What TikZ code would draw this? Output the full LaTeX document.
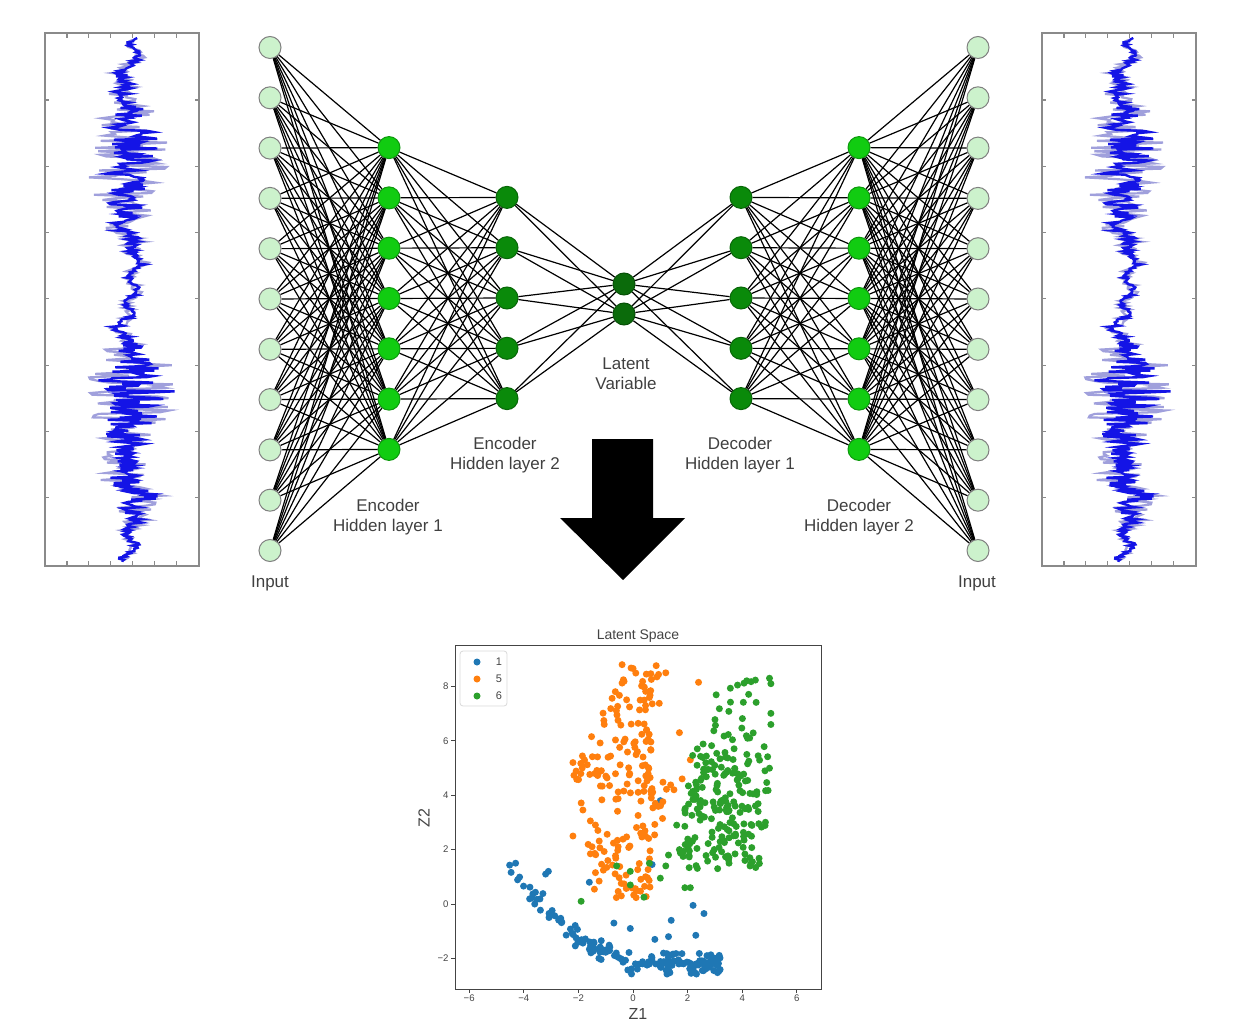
\documentclass[tikz,border=0pt]{standalone}
\usepackage{fontspec}
\setmainfont{Liberation Sans}
\usepackage{tikz}

\definecolor{inputgreen}{HTML}{CCF2CC}
\definecolor{hidgreen}{HTML}{11CC11}
\definecolor{deepgreen}{HTML}{0A8A0A}
\definecolor{latgreen}{HTML}{0B6B0B}
\definecolor{labelgray}{HTML}{404040}
\definecolor{framegray}{HTML}{8A8A8A}
\definecolor{axisgray}{HTML}{444444}
\definecolor{wavelight}{HTML}{A0A0DC}
\definecolor{waveblue}{HTML}{1414E6}
\definecolor{mplblue}{HTML}{1F77B4}
\definecolor{mplorange}{HTML}{FF7F0E}
\definecolor{mplgreen}{HTML}{2CA02C}

\tikzset{
  neuron/.style={draw, circle, minimum size=11pt, inner sep=0pt, line width=0.5pt},
  innode/.style={neuron, fill=inputgreen, draw=gray},
  hidnode/.style={neuron, fill=hidgreen, draw=hidgreen!75!black},
  deepnode/.style={neuron, fill=deepgreen, draw=deepgreen!75!black},
  latnode/.style={neuron, fill=latgreen, draw=latgreen!75!black},
  link/.style={line width=0.6pt, black},
  layerlbl/.style={align=center, text=labelgray, font=\fontsize{8.5}{10}\selectfont},
  ticklbl/.style={text=axisgray, font=\fontsize{4.8}{5}\selectfont, inner sep=1pt},
}

\begin{document}
\begin{tikzpicture}[x=0.5pt, y=-0.5pt,
  declare function={
    wbase(\t)=6*sin(3*\t)+5*sin(14*\t)+3*sin(7.3*\t+40);
    wamp(\t)=4+24*exp(-((\t-160)/60)^2)+34*exp(-((\t-395)/45)^2)+14*exp(-((\t-490)/30)^2);
  }]
\useasboundingbox (0,0) rectangle (1240,1026);

% signal plots, left and right
\foreach \wc/\bx in {130/45, 1126/1042} {
  \pgfmathsetseed{11}
  \draw[wavelight, line width=1.1pt] plot[variable=\t, domain=40:560, samples=300]
    ({\wc+wbase(\t)+1.45*wamp(\t)*rand}, \t);
  \draw[waveblue, line width=1.2pt] plot[variable=\t, domain=38:562, samples=480]
    ({\wc+wbase(\t)+0.9*wamp(\t)*rand}, \t);
  \draw[framegray, line width=0.8pt] (\bx,33) rectangle ++(154,533);
  \foreach \k in {1,...,6} {
    \draw[framegray, line width=0.6pt] ({\bx+21.9*\k},33) -- ++(0,5);
    \draw[framegray, line width=0.6pt] ({\bx+21.9*\k},566) -- ++(0,-5);
  }
  \foreach \k in {0,...,6} {
    \draw[framegray, line width=0.6pt] (\bx,{100+66.3*\k}) -- ++(4,0);
    \draw[framegray, line width=0.6pt] ({\bx+154},{100+66.3*\k}) -- ++(-4,0);
  }
}

% autoencoder layers
\foreach \i in {1,...,11} {
  \node[innode] (in\i) at (270,{47.5+50.3*(\i-1)}) {};
  \node[innode] (out\i) at (978,{47.5+50.3*(\i-1)}) {};
}
\foreach \i in {1,...,7} {
  \node[hidnode] (ea\i) at (389,{147.6+50.3*(\i-1)}) {};
  \node[hidnode] (db\i) at (859,{147.6+50.3*(\i-1)}) {};
}
\foreach \i in {1,...,5} {
  \node[deepnode] (eb\i) at (507,{197.4+50.3*(\i-1)}) {};
  \node[deepnode] (da\i) at (741,{197.4+50.3*(\i-1)}) {};
}
\node[latnode] (z1) at (624,284) {};
\node[latnode] (z2) at (624,314) {};

% connections
\foreach \i in {1,...,11} \foreach \j in {1,...,7} {
  \draw[link] (in\i) -- (ea\j);
  \draw[link] (out\i) -- (db\j);
}
\foreach \i in {1,...,7} \foreach \j in {1,...,5} {
  \draw[link] (ea\i) -- (eb\j);
  \draw[link] (db\i) -- (da\j);
}
\foreach \i in {1,...,5} \foreach \j in {1,2} {
  \draw[link] (eb\i) -- (z\j);
  \draw[link] (da\i) -- (z\j);
}

% layer labels
\node[layerlbl] (lin) at (270,583) {Input};
\node[layerlbl] (lout) at (977,583) {Input};
\node[layerlbl] (lea) at (388,517) {Encoder\\Hidden layer 1};
\node[layerlbl] (leb) at (505,455) {Encoder\\Hidden layer 2};
\node[layerlbl] (lz) at (626,374) {Latent\\Variable};
\node[layerlbl] (lda) at (740,455) {Decoder\\Hidden layer 1};
\node[layerlbl] (ldb) at (859,517) {Decoder\\Hidden layer 2};

% big arrow
\fill[black] (592,439) -- (653,439) -- (653,518) -- (685,518) -- (623,580)
  -- (560,518) -- (592,518) -- cycle;

% latent space scatter
\node[text=axisgray, font=\fontsize{7}{8}\selectfont] (title) at (638,636) {Latent Space};
\node[text=axisgray, font=\fontsize{8}{9}\selectfont] (zlx) at (638,1014) {Z1};
\node[text=axisgray, font=\fontsize{8}{9}\selectfont, rotate=90] (zly) at (424,818) {Z2};
\begin{scope}[shift={(633,904)}, x=13.65pt, y=13.6pt]
  \pgfmathsetseed{5}
  % label 1
  \foreach \k in {1,...,170} {
    \pgfmathsetmacro{\sa}{rnd}
    \pgfmathsetmacro{\sx}{3.2-7.8*\sa*sqrt(\sa)}
    \pgfmathsetmacro{\sn}{rand}
    \pgfmathsetmacro{\sy}{max(-2.2,-1.3-(\sx+2),-1.3-0.45*(\sx+2))+0.4*\sn*abs(\sn)}
    \fill[mplblue] (\sx,\sy) circle[radius=1.75pt];
  }
  \foreach \sx/\sy in {1/3.8, 0.7/1.45, -1.6/0.8, 2.2/-0.05, 2.6/-0.35, 1.4/-0.6,
      0.8/-1.3, 2.3/-1.15, 1.3/-1.2, -0.7/-0.7, -0.1/-0.9, -3.2/1.1, -3.1/1.2,
      -4.3/1.5, -3.6/0}
    \fill[mplblue] (\sx,\sy) circle[radius=1.75pt];
  % label 5
  \foreach \k in {1,...,95} {
    \pgfmathsetmacro{\sa}{rnd}
    \pgfmathsetmacro{\sy}{4.7+4.1*(0.4*\sa+0.6*\sa*\sa)}
    \pgfmathsetmacro{\sb}{rand}
    \pgfmathsetmacro{\sx}{-0.8+0.3*(\sy-4.7)+(1.4-0.15*(\sy-4.7))*\sb}
    \fill[mplorange] (\sx,\sy) circle[radius=1.75pt];
  }
  \foreach \k in {1,...,105} {
    \pgfmathsetmacro{\sa}{rnd}
    \pgfmathsetmacro{\sy}{0.2+4.5*\sa}
    \pgfmathsetmacro{\sb}{rand}
    \pgfmathsetmacro{\sx}{-0.4+(0.9+0.22*\sy)*\sb}
    \fill[mplorange] (\sx,\sy) circle[radius=1.75pt];
  }
  \foreach \sx/\sy in {2.4/8.15, 1.7/6.3, 2.1/5.3, 1.8/4.6, 1.5/4.2, -2.2/5.2,
      -2.2/2.5, 1.2/8.5, -0.4/8.8}
    \fill[mplorange] (\sx,\sy) circle[radius=1.75pt];
  % label 6
  \foreach \k in {1,...,110} {
    \pgfmathsetmacro{\sa}{rnd}
    \pgfmathsetmacro{\sy}{1.3+7*(0.4*\sa+0.6*\sa*\sa)}
    \pgfmathsetmacro{\sb}{rand}
    \pgfmathsetmacro{\sx}{min(5.05,3.3+0.08*(\sy-1.3)+1.45*\sb)}
    \fill[mplgreen] (\sx,\sy) circle[radius=1.75pt];
  }
  \foreach \k in {1,...,110} {
    \pgfmathsetmacro{\sa}{rand}
    \pgfmathsetmacro{\sy}{3.6+1.9*\sa}
    \pgfmathsetmacro{\sb}{rand}
    \pgfmathsetmacro{\sx}{3.2+0.1*(\sy-3.6)+1.3*\sb}
    \fill[mplgreen] (\sx,\sy) circle[radius=1.75pt];
  }
  \foreach \sx/\sy in {-1.9/0.1, 0.4/0.25, -0.1/0.7, -0.6/1.4, 0.6/1.5, 1/0.95,
      1.2/1.4, 1.3/1.8, 1.9/0.6, 2.1/0.6, -0.1/1.2, 5/8.3, 1.6/2.9, 1.7/2.0,
      4.1/1.6, 3.1/1.3}
    \fill[mplgreen] (\sx,\sy) circle[radius=1.75pt];
  % axes
  \draw[axisgray, line width=0.5pt] (-6.52,-3.125) rectangle (6.92,9.49);
  \foreach \v/\t in {-6/−6, -4/−4, -2/−2, 0/0, 2/2, 4/4, 6/6} {
    \draw[axisgray, line width=0.4pt] (\v,-3.125) -- ++(0,-0.13);
    \node[ticklbl] (xt\v) at (\v,-3.46) {\t};
  }
  \foreach \v/\t in {-2/−2, 0/0, 2/2, 4/4, 6/6, 8/8} {
    \draw[axisgray, line width=0.4pt] (-6.52,\v) -- ++(-0.13,0);
    \node[ticklbl, anchor=east] (yt\v) at (-6.67,\v) {\t};
  }
\end{scope}

% legend
\draw[black!15, fill=white, line width=0.4pt, rounded corners=1.5pt] (460,651) rectangle (507,706);
\fill[mplblue] (477,662) circle[radius=1.75pt];
\fill[mplorange] (477,679) circle[radius=1.75pt];
\fill[mplgreen] (477,696) circle[radius=1.75pt];
\node[ticklbl, font=\fontsize{5.5}{6}\selectfont] (lg1) at (499,662) {1};
\node[ticklbl, font=\fontsize{5.5}{6}\selectfont] (lg5) at (499,679) {5};
\node[ticklbl, font=\fontsize{5.5}{6}\selectfont] (lg6) at (499,696) {6};
\end{tikzpicture}
\end{document}
